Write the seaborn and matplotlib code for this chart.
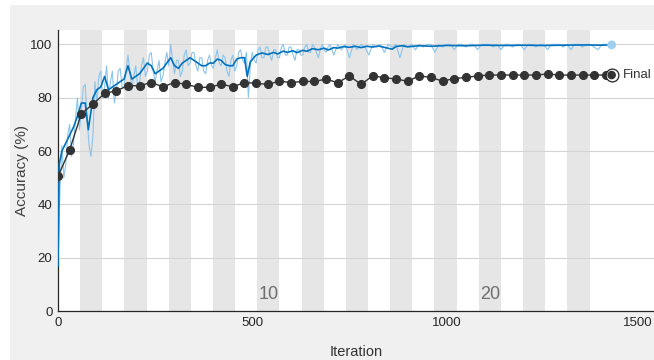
# Training progress plot (accuracy vs iteration)
import numpy as np
import pandas as pd
import seaborn as sns
import matplotlib.pyplot as plt
import matplotlib.transforms as mtransforms
from matplotlib.patches import Rectangle

sns.set_style("white")
plt.rcParams["font.family"] = ["Liberation Sans", "DejaVu Sans"]

# Data
n_epochs = 25
iters_per_epoch = 57
epoch_labels = [10, 20]

# raw training accuracy: every 5 iterations up to 695, then every 10
raw_iter = list(range(0, 700, 5)) + list(range(700, 1421, 10))
raw_acc = [17, 45, 62, 50, 55, 66, 70, 58, 63, 72,
           80, 68, 75, 84, 85, 72, 62, 58, 66, 86,
           78, 88, 90, 80, 84, 92, 80, 86, 90, 78,
           82, 90, 91, 84, 84, 90, 96, 90, 83, 88,
           92, 84, 86, 92, 95, 88, 90, 96, 97, 90,
           86, 90, 94, 86, 88, 93, 97, 92, 100, 94,
           89, 94, 94, 88, 90, 96, 98, 92, 93, 97,
           97, 92, 90, 95, 95, 90, 89, 94, 96, 92,
           91, 95, 98, 93, 92, 96, 95, 90, 88, 94,
           96, 90, 92, 97, 98, 94, 93, 97, 80, 92,
           97, 94, 93, 98, 99, 95, 95, 99, 99, 96,
           94, 98, 98, 95, 95, 99, 100, 96, 96, 99,
           99, 96, 94, 98, 98, 96, 96, 99, 100, 97,
           97, 100, 99, 97, 95, 98, 100, 98, 97, 99,
           100, 96, 100, 98, 100, 95, 100, 98, 100, 99,
           96, 100, 99, 100, 97, 100, 99, 100, 95, 100,
           99, 100, 98, 100, 99, 100, 100, 97, 100, 99,
           100, 100, 98, 100, 100, 99, 100, 100, 98, 100,
           100, 100, 99, 100, 98, 100, 100, 99, 100, 100,
           98, 100, 100, 99, 100, 100, 98, 100, 100, 100,
           99, 100, 98, 100, 100, 99, 100, 100, 99, 98,
           100, 100, 100]

# smoothed training accuracy
smooth_iter = ([0, 3, 10, 20, 30, 40, 50, 60, 70, 78]
               + list(range(90, 481, 10))
               + [487, 495, 510, 525, 540, 555, 565, 580, 590, 605,
                  615, 630, 640, 655, 670, 685, 695, 710, 720, 735,
                  750, 765, 780, 795, 810, 825, 840, 860, 870, 885,
                  900, 930, 960, 1000, 1050, 1100, 1150, 1200, 1250, 1300,
                  1350, 1400, 1425])
smooth_acc = [17, 55, 60, 63, 66, 69, 73, 78, 78, 68,
              80, 83, 84, 88, 83, 84, 85, 86, 87, 92,
              87, 88, 89, 91, 93, 92, 89, 90, 91, 93,
              95, 92, 91, 93, 94, 95, 94, 93, 92, 92,
              93, 93, 94.5, 94, 92.5, 92, 92, 94.5, 95, 95,
              88, 93.5, 96, 96.8, 96.2, 97, 96.4, 97.5, 97.0, 97.6,
              96.9, 97.8, 97.4, 98.4, 98.0, 98.6, 97.9, 98.8, 98.6, 99.2,
              98.9, 99.3, 98.8, 99.3, 99.0, 99.4, 98.9, 98.2, 99.2, 99.5,
              99.1, 99.5, 99.3, 99.6, 99.5, 99.7, 99.6, 99.7, 99.6, 99.7,
              99.8, 99.7, 99.8]

# validation accuracy (every 30 iterations) and final values
val_iter = list(range(0, 1411, 30))
val_acc = [50.5, 60.4, 74, 77.6, 81.6, 82.6, 84.5, 84.5, 85.7, 84.1,
           85.7, 85, 83.9, 83.9, 85.1, 84.1, 85.7, 85.4, 85, 86.2,
           85.7, 86.1, 86.1, 87, 85.6, 88.2, 85, 88.2, 87.5, 87,
           86.2, 88.2, 87.6, 86.2, 87.2, 87.6, 88.2, 88.5, 88.5, 88.5,
           88.5, 88.5, 88.9, 88.5, 88.5, 88.5, 88.5, 88.5]
final_iter = 1425
final_val = 88.5
final_train = 99.8

raw_df = pd.DataFrame({"Iteration": raw_iter, "Accuracy": raw_acc})
smooth_df = pd.DataFrame({"Iteration": smooth_iter, "Accuracy": smooth_acc})
val_df = pd.DataFrame({"Iteration": val_iter + [final_iter],
                       "Accuracy": val_acc + [final_val]})

# Figure
fig = plt.figure(figsize=(6.54, 3.6), dpi=100, facecolor="white")
fig.patches.append(Rectangle((10 / 654, 0), 1, 355 / 360, transform=fig.transFigure,
                             facecolor="#f0f0f0", edgecolor="none", zorder=-10))
ax = fig.add_axes([58 / 654, 49 / 360, 596 / 654, 281 / 360])
ax.set_facecolor("white")

# epoch shading
for k in range(2, n_epochs + 1, 2):
    ax.axvspan((k - 1) * iters_per_epoch, k * iters_per_epoch,
               color="#e6e6e6", lw=0, zorder=0)
for e in epoch_labels:
    ax.text((e - 0.5) * iters_per_epoch, 3, str(e), ha="center", va="bottom",
            fontsize=13, color="#6e6e6e", zorder=1)

ax.set_axisbelow(True)
ax.yaxis.grid(True, color="#d4d4d4", lw=0.8)
ax.xaxis.grid(False)

sns.lineplot(data=raw_df, x="Iteration", y="Accuracy", estimator=None,
             color="#8cc4ec", lw=0.8, ax=ax, zorder=2)
sns.lineplot(data=smooth_df, x="Iteration", y="Accuracy", estimator=None,
             color="#0072bd", lw=1.2, ax=ax, zorder=3)
sns.lineplot(data=val_df, x="Iteration", y="Accuracy", estimator=None,
             color="#333333", lw=1.0, marker="o", markersize=5.8,
             markeredgecolor="#333333", ax=ax, zorder=4)

# final markers
sns.scatterplot(x=[final_iter], y=[final_train], s=40, color="#9dcff0",
                edgecolor="none", ax=ax, zorder=5)
sns.scatterplot(x=[final_iter], y=[final_val], s=85, color="white",
                edgecolor="#222222", linewidth=0.9, ax=ax, zorder=5)
sns.scatterplot(x=[final_iter], y=[final_val], s=38, color="#333333",
                edgecolor="none", ax=ax, zorder=6)
ax.text(final_iter + 28, final_val, "Final", ha="left", va="center",
        fontsize=9.5, color="#333333")

ax.set_xlim(0, 1534)
ax.set_ylim(0, 105.4)
ax.set_xticks([0, 500, 1000, 1500])
ax.set_yticks([0, 20, 40, 60, 80, 100])
ax.tick_params(direction="in", length=4, width=0.8, colors="#262626",
               labelsize=9.5, pad=4)
ax.tick_params(axis="y", length=0)
# nudge the last x label so it stays inside the image
last = ax.get_xticklabels()[-1]
last.set_transform(last.get_transform()
                   + mtransforms.ScaledTranslation(-3 / 100, 0, fig.dpi_scale_trans))
for side in ["top", "right"]:
    ax.spines[side].set_visible(False)
for side in ["left", "bottom"]:
    ax.spines[side].set_color("#262626")
    ax.spines[side].set_linewidth(0.9)

ax.set_xlabel("Iteration", fontsize=10.5, color="#333333", labelpad=12)
ax.set_ylabel("Accuracy (%)", fontsize=11, color="#404040")
ax.yaxis.set_label_coords(-0.049, 0.5)

fig.savefig("out.png", dpi=100, facecolor=fig.get_facecolor())
